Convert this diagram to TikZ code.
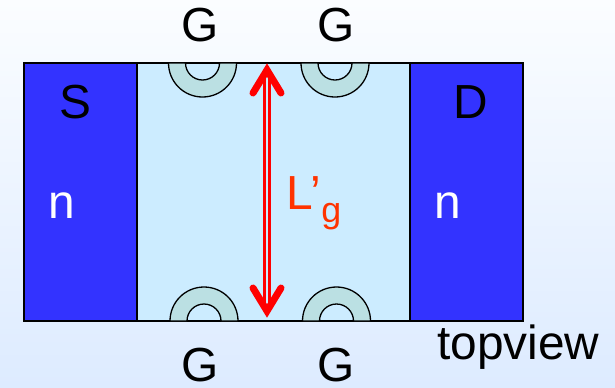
\documentclass[tikz,border=0pt]{standalone}
\usepackage{fontspec}
\setmainfont{Liberation Sans}
\definecolor{srcblue}{HTML}{3333FF}
\definecolor{chan}{HTML}{CCECFF}
\definecolor{gatec}{HTML}{BBE0E3}
\definecolor{bgtop}{HTML}{FBFDFF}
\definecolor{bgbot}{HTML}{DDEBFF}
\definecolor{lab}{HTML}{FF3300}
\tikzset{
  region/.style={draw=black,line width=1.6pt,inner sep=0pt,outer sep=0pt,anchor=north west},
  txt/.style={font=\fontsize{48}{48}\selectfont,inner sep=0pt,anchor=base},
  gatearc/.style={draw=black,fill=gatec,line width=1.3pt},
  rod/.style={red,line width=2.1pt},
  headline/.style={red,line width=7pt,line cap=round,line join=miter}
}
\begin{document}
\begin{tikzpicture}[x=1bp,y=-1bp]
\useasboundingbox (0,0) rectangle (615,387);
\shade[top color=bgtop,bottom color=bgbot] (0,0) rectangle (615,387);
\node[region,fill=chan,minimum width=273bp,minimum height=258bp] (channel) at (137,63) {};
\node[region,fill=srcblue,minimum width=113bp,minimum height=258bp] (source) at (24,63) {};
\node[region,fill=srcblue,minimum width=113bp,minimum height=258bp] (drain) at (410,63) {};
% gates
\draw[gatearc] (168.5,63) arc[start angle=180,end angle=0,radius=34] -- (219.5,63) arc[start angle=0,end angle=180,radius=17] -- cycle;
\draw[gatearc] (301,63) arc[start angle=180,end angle=0,radius=34] -- (352,63) arc[start angle=0,end angle=180,radius=17] -- cycle;
\draw[gatearc] (170,321) arc[start angle=180,end angle=360,radius=34] -- (221,321) arc[start angle=360,end angle=180,radius=17] -- cycle;
\draw[gatearc] (302.5,321) arc[start angle=180,end angle=360,radius=34] -- (353.5,321) arc[start angle=360,end angle=180,radius=17] -- cycle;
% arrow
\coordinate (tip1) at (267,70);
\coordinate (tip2) at (267,311);
\draw[rod] ([xshift=-2.5bp]tip1) -- ([xshift=-2.5bp]tip2);
\draw[rod] ([xshift=2.5bp]tip1) -- ([xshift=2.5bp]tip2);
\draw[headline] (253,93) -- (tip1) -- (281,93);
\draw[headline] (253,288) -- (tip2) -- (281,288);
% labels
\node[txt] (gtl) at (200.5,41) {G};
\node[txt] (gtr) at (336,41) {G};
\node[txt] (gbl) at (200.5,381) {G};
\node[txt] (gbr) at (336,381) {G};
\node[txt] (s) at (75,118) {S};
\node[txt] (d) at (471,118) {D};
\node[txt,white] (n1) at (62,218) {n};
\node[txt,white] (n2) at (448,218) {n};
\node[txt,text=lab,anchor=base west] (lg) at (286.5,209) {L’\raisebox{-13bp}{\fontsize{36}{36}\selectfont g}};
\node[txt,anchor=base west] (top) at (437,359) {topview};
\end{tikzpicture}
\end{document}
